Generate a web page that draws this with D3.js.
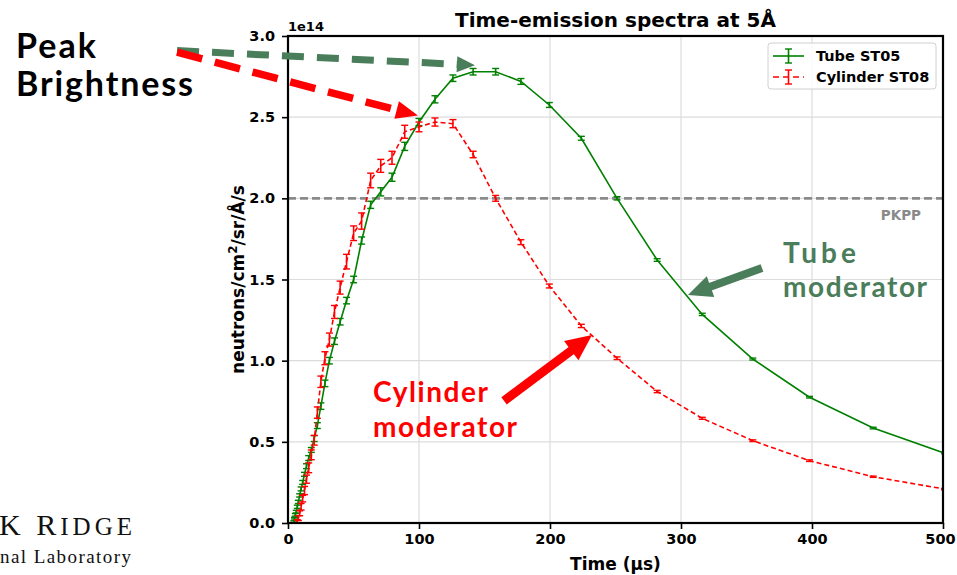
<!DOCTYPE html>
<html>
<head>
<meta charset="utf-8">
<script src="https://cdn.jsdelivr.net/npm/d3@7"></script>
<style>
body{margin:0;background:#fff;}
</style>
</head>
<body>
<svg id="chart" width="957" height="575" font-family="DejaVu Sans, sans-serif"></svg>
<script>
// values in units of 1e14 neutrons/cm2/sr/A/s, time in microseconds
var tubeTime = [4.5, 5.0, 5.6, 6.3, 7.1, 7.9, 8.9, 10.0, 11.2, 12.6, 14.1, 15.8, 17.8, 20.0, 22.4, 25.1, 28.2, 31.6, 35.5, 39.8, 44.7, 50.1, 56.2, 63.1, 70.8, 79.4, 89.1, 100.0, 112.2, 125.9, 141.3, 158.5, 177.8, 199.5, 223.9, 251.2, 281.8, 316.2, 354.8, 398.1, 446.7, 501.2];
var tubeFlux = [0.01, 0.03, 0.05, 0.07, 0.10, 0.13, 0.17, 0.21, 0.25, 0.30, 0.35, 0.40, 0.45, 0.52, 0.60, 0.72, 0.86, 1.00, 1.12, 1.24, 1.37, 1.50, 1.74, 1.96, 2.04, 2.13, 2.32, 2.47, 2.61, 2.74, 2.78, 2.78, 2.72, 2.575, 2.37, 2.0, 1.62, 1.285, 1.01, 0.775, 0.585, 0.43];
var tubeErr = [0.005, 0.005, 0.008, 0.008, 0.01, 0.01, 0.01, 0.012, 0.012, 0.012, 0.015, 0.015, 0.015, 0.018, 0.018, 0.02, 0.02, 0.02, 0.02, 0.02, 0.02, 0.02, 0.022, 0.022, 0.025, 0.025, 0.025, 0.022, 0.022, 0.02, 0.02, 0.02, 0.018, 0.015, 0.012, 0.01, 0.008, 0.007, 0.006, 0.005, 0.005, 0.004];

var cylTime = [7.1, 7.9, 8.9, 10.0, 11.2, 12.6, 14.1, 15.8, 17.8, 20.0, 22.4, 25.1, 28.2, 31.6, 35.5, 39.8, 44.7, 50.1, 56.2, 63.1, 70.8, 79.4, 89.1, 100.0, 112.2, 125.9, 141.3, 158.5, 177.8, 199.5, 223.9, 251.2, 281.8, 316.2, 354.8, 398.1, 446.7, 501.2];
var cylFlux = [0.01, 0.03, 0.06, 0.10, 0.15, 0.20, 0.27, 0.34, 0.42, 0.51, 0.68, 0.87, 1.015, 1.13, 1.30, 1.45, 1.61, 1.785, 1.86, 2.11, 2.20, 2.25, 2.41, 2.44, 2.47, 2.46, 2.27, 2.0, 1.73, 1.46, 1.214, 1.015, 0.81, 0.645, 0.507, 0.384, 0.285, 0.209];
var cylErr = [0.01, 0.015, 0.015, 0.02, 0.02, 0.025, 0.025, 0.03, 0.03, 0.03, 0.035, 0.035, 0.04, 0.04, 0.04, 0.04, 0.045, 0.045, 0.05, 0.045, 0.04, 0.04, 0.04, 0.03, 0.025, 0.025, 0.02, 0.018, 0.015, 0.012, 0.01, 0.008, 0.007, 0.006, 0.005, 0.005, 0.004, 0.004];

var xTicks = [0, 100, 200, 300, 400, 500];
var yTicks = [0.0, 0.5, 1.0, 1.5, 2.0, 2.5, 3.0];
var pkppLevel = 2.0;
var seriesNames = ["Tube ST05", "Cylinder ST08"];

var GREEN = "#008000", RED = "#ff0000", ANNO_GREEN = "#4a7d5a";

var svg = d3.select("#chart");
var margin = {top: 36, right: 14, bottom: 52, left: 288};
var width = 957 - margin.left - margin.right;
var height = 575 - margin.top - margin.bottom;

var x = d3.scaleLinear().domain([0, 500]).range([0, width]);
var y = d3.scaleLinear().domain([0, 3]).range([height, 0]);

var g = svg.append("g").attr("transform", "translate(" + margin.left + "," + margin.top + ")");

svg.append("defs").append("clipPath").attr("id", "plotclip")
    .append("rect").attr("width", width).attr("height", height);

// grid
g.append("g").selectAll("line").data(xTicks).enter().append("line")
    .attr("x1", function(d){ return x(d); }).attr("x2", function(d){ return x(d); })
    .attr("y1", 0).attr("y2", height)
    .attr("stroke", "#dcdcdc").attr("stroke-width", 1.2);
g.append("g").selectAll("line").data(yTicks).enter().append("line")
    .attr("y1", function(d){ return y(d); }).attr("y2", function(d){ return y(d); })
    .attr("x1", 0).attr("x2", width)
    .attr("stroke", "#dcdcdc").attr("stroke-width", 1.2);

// PKPP reference
g.append("line")
    .attr("x1", 0).attr("x2", width)
    .attr("y1", y(pkppLevel)).attr("y2", y(pkppLevel))
    .attr("stroke", "#8a8a8a").attr("stroke-width", 2.6)
    .attr("stroke-dasharray", "8,4");
g.append("text")
    .attr("x", width - 22).attr("y", y(pkppLevel) + 22)
    .attr("text-anchor", "end")
    .attr("font-size", 13.5).attr("font-weight", "bold").attr("fill", "#8a8a8a")
    .text("PKPP");

// series
function drawSeries(times, flux, err, color, dash){
    var pts = times.map(function(t, i){ return {t: t, v: flux[i], e: err[i]}; });
    var layer = g.append("g").attr("clip-path", "url(#plotclip)");
    var line = d3.line().x(function(d){ return x(d.t); }).y(function(d){ return y(d.v); });
    layer.append("path").datum(pts)
        .attr("d", line)
        .attr("fill", "none").attr("stroke", color).attr("stroke-width", 1.6)
        .attr("stroke-dasharray", dash);
    var bars = layer.selectAll(".eb").data(pts).enter().append("g");
    bars.append("line")
        .attr("x1", function(d){ return x(d.t); }).attr("x2", function(d){ return x(d.t); })
        .attr("y1", function(d){ return y(d.v - d.e); }).attr("y2", function(d){ return y(d.v + d.e); })
        .attr("stroke", color).attr("stroke-width", 1.6);
    [-1, 1].forEach(function(s){
        bars.append("line")
            .attr("x1", function(d){ return x(d.t) - 3.5; }).attr("x2", function(d){ return x(d.t) + 3.5; })
            .attr("y1", function(d){ return y(d.v + s * d.e); }).attr("y2", function(d){ return y(d.v + s * d.e); })
            .attr("stroke", color).attr("stroke-width", 1.4);
    });
}
drawSeries(tubeTime, tubeFlux, tubeErr, GREEN, null);
drawSeries(cylTime, cylFlux, cylErr, RED, "5,3");

// axes
var xAxis = d3.axisBottom(x).tickValues(xTicks).tickSize(6).tickPadding(5).tickFormat(d3.format("d"));
var yAxis = d3.axisLeft(y).tickValues(yTicks).tickSize(6).tickPadding(7).tickFormat(d3.format(".1f"));
var gx = g.append("g").attr("transform", "translate(0," + height + ")").call(xAxis);
var gy = g.append("g").call(yAxis);
[gx, gy].forEach(function(a){
    a.select(".domain").remove();
    a.attr("font-family", null);
    a.selectAll(".tick line").attr("stroke", "#000").attr("stroke-width", 1.6);
    a.selectAll(".tick text").attr("font-size", 14.5)
        .attr("font-weight", "bold").attr("fill", "#000");
});
// keep the last x label inside the page
gx.selectAll(".tick text").filter(function(d){ return d === 500; }).attr("dx", -3);

g.append("rect").attr("width", width).attr("height", height)
    .attr("fill", "none").attr("stroke", "#000").attr("stroke-width", 2.2);

// titles
g.append("text").attr("x", width / 2).attr("y", -9).attr("text-anchor", "middle")
    .attr("font-size", 20).attr("font-weight", "bold").text("Time-emission spectra at 5\u00c5");
g.append("text").attr("x", 0).attr("y", -5)
    .attr("font-size", 13).attr("font-weight", "bold").text("1e14");
g.append("text").attr("x", width / 2).attr("y", height + 47).attr("text-anchor", "middle")
    .attr("font-size", 17).attr("font-weight", "bold").text("Time (\u00b5s)");
var yl = g.append("text")
    .attr("transform", "translate(-44," + (height / 2) + ") rotate(-90)")
    .attr("text-anchor", "middle").attr("font-size", 17).attr("font-weight", "bold");
yl.append("tspan").text("neutrons/cm");
yl.append("tspan").attr("font-size", 12).attr("dy", -7).text("2");
yl.append("tspan").attr("dy", 7).text("/sr/\u00c5/s");

// legend
var lg = svg.append("g").attr("transform", "translate(768,43)");
lg.append("rect").attr("width", 168).attr("height", 46).attr("rx", 3)
    .attr("fill", "#fff").attr("fill-opacity", 0.85).attr("stroke", "#d0d0d0");
[[GREEN, null], [RED, "5,3"]].forEach(function(s, i){
    var row = lg.append("g").attr("transform", "translate(0," + (13 + i * 21) + ")");
    row.append("line").attr("x1", 5).attr("x2", 36).attr("y1", 0).attr("y2", 0)
        .attr("stroke", s[0]).attr("stroke-width", 1.6).attr("stroke-dasharray", s[1] ? "6,4" : null);
    row.append("line").attr("x1", 20.5).attr("x2", 20.5).attr("y1", -7).attr("y2", 7)
        .attr("stroke", s[0]).attr("stroke-width", 1.6);
    [-7, 7].forEach(function(c){
        row.append("line").attr("x1", 17).attr("x2", 24).attr("y1", c).attr("y2", c)
            .attr("stroke", s[0]).attr("stroke-width", 1.4);
    });
    row.append("text").attr("x", 48).attr("y", 5).attr("font-size", 14.5).attr("font-weight", "bold")
        .text(seriesNames[i]);
});

// annotations (arrow ends in data units)
function arrow(p1, p2, color, w, headL, headW, dash){
    var x1 = margin.left + x(p1[0]), y1 = margin.top + y(p1[1]);
    var x2 = margin.left + x(p2[0]), y2 = margin.top + y(p2[1]);
    var dx = x2 - x1, dy = y2 - y1, len = Math.sqrt(dx * dx + dy * dy);
    var ux = dx / len, uy = dy / len;
    var bx = x2 - ux * headL, by = y2 - uy * headL;
    svg.append("line").attr("x1", x1).attr("y1", y1).attr("x2", bx + ux * 1).attr("y2", by + uy * 1)
        .attr("stroke", color).attr("stroke-width", w).attr("stroke-dasharray", dash);
    svg.append("polygon")
        .attr("points", [[x2, y2], [bx - uy * headW / 2, by + ux * headW / 2], [bx + uy * headW / 2, by - ux * headW / 2]].join(" "))
        .attr("fill", color);
}
arrow([-84.7, 2.91], [142.7, 2.82], ANNO_GREEN, 7, 18, 16, "22,13");
arrow([-84.7, 2.90], [99.2, 2.51], RED, 7.5, 22, 18, "26,13");
arrow([361.8, 1.571], [305.3, 1.405], ANNO_GREEN, 8, 24, 22, null);
arrow([164.9, 0.752], [232.1, 1.158], RED, 9, 26, 24, null);

function label(txt, px, py, size, color, len){
    var t = svg.append("text").attr("x", px).attr("y", py)
        .attr("font-family", "Lato, 'Open Sans', sans-serif")
        .attr("font-size", size).attr("font-weight", "bold").attr("fill", color).text(txt);
    if (len) t.attr("textLength", len).attr("lengthAdjust", "spacing");
}
label("Peak", 16, 58, 34, "#000", 80);
label("Brightness", 16, 96, 34, "#000", 177);
label("Tube", 783, 263, 28, ANNO_GREEN, 73);
label("moderator", 783, 297, 28, ANNO_GREEN, 144);
label("Cylinder", 373, 402, 28, RED, 115);
label("moderator", 373, 437, 28, RED, 144);

// cropped lab logo
var logo = svg.append("g").attr("font-family", "Liberation Serif, serif").attr("fill", "#111");
var l1 = logo.append("text").attr("x", -1).attr("y", 535).attr("font-size", 30)
    .attr("textLength", 133).attr("lengthAdjust", "spacing");
l1.append("tspan").text("K R");
l1.append("tspan").attr("font-size", 25).text("IDGE");
logo.append("text").attr("x", 0).attr("y", 563).attr("font-size", 19)
    .attr("textLength", 131).attr("lengthAdjust", "spacing").text("nal Laboratory");
</script>
</body>
</html>
